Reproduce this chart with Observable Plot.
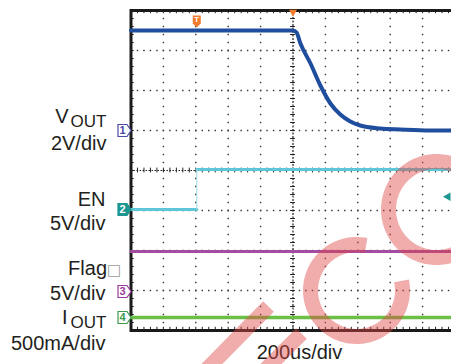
<!DOCTYPE html>
<html><head><meta charset="utf-8">
<script src="https://cdn.jsdelivr.net/npm/d3@7"></script>
<script src="https://cdn.jsdelivr.net/npm/@observablehq/plot@0.6"></script>
<style>
html,body{margin:0;padding:0;background:#fff;overflow:hidden;}
#wrap{position:relative;width:451px;height:364px;overflow:hidden;}
#wrap svg{position:absolute;left:0;top:0;}
</style></head><body><div id="wrap"></div>
<script>
// ---- Scope settings: 200 us/div, trigger (expansion point) at t = 0, 8 vertical divisions
const timeTicks = [-1000,-800,-600,-400,-200,0,200,400,600,800,1000];
const divTicks = [-4,-3,-2,-1,0,1,2,3,4];

// channels
const channelNames  = ["VOUT","EN","Flag","IOUT"];
const channelNums   = ["1","2","3","4"];
const channelScale  = [2,5,5,0.5];          // units per division
const channelOffset = [1,-0.975,-3.025,-3.675]; // ground reference, divisions
const channelColor  = ["#1f4e9e","#5ec6d6","#a24ca2","#6cbf45"];
const markerColor   = ["#4a4aa6","#1b9690","#9b3a9b","#3c9a4c"];

// VOUT (V) vs time (us)
const voutT = [-1000,0,22,46,108,169,231,292,354,415,538,662,846,1000];
const voutV = [5,5,4.9,4.35,3.35,2.25,1.35,0.8,0.45,0.25,0.1,0.05,0,0];
// EN (V)
const enT = [-1000,-594,-594,1000];
const enV = [0,0,5,5];
const enTrigLevel = 1.6;
// Flag (V)
const flagT = [-1000,1000];
const flagV = [5,5];
// IOUT (A)
const ioutT = [-1000,1000];
const ioutA = [0,0];
// trigger position marker
const trigPosT = [-594];

// labels
const labelMain = ["V","2V/div","EN","5V/div","Flag","5V/div","I","500mA/div"];
const labelSub = ["OUT","OUT"];
const timeLabel = ["200us/div"];
const flagBox = ["\u25A1"];

// watermark shapes (pixel space)
const wmArcCx = [356,436];
const wmArcCy = [290,209];
const wmArcR  = [46,48];
const wmArcA0 = [78,30];
const wmArcA1 = [372,330];
const wmBarX1 = [203,260];
const wmBarY1 = [372,374];
const wmBarX2 = [268,301];
const wmBarY2 = [306,333];

// ---- helpers
const py = p => (170 - p) / 40; // pixel row -> division (for label placement)
const toDiv = (k, v) => channelOffset[k] + v / channelScale[k];
const tMinor = d3.range(0, 51).map(i => -1000 + i * 40);
const yMinor = d3.range(0, 41).map(i => +(-4 + i * 0.2).toFixed(2));

const gridDots = [];
for (const y of divTicks) if (Math.abs(y) !== 4 && y !== 0)
  for (const t of tMinor) if (Math.abs(t) !== 1000) gridDots.push({t, y});
for (const t of timeTicks) if (Math.abs(t) !== 1000 && t !== 0)
  for (const y of yMinor) if (Math.abs(y) !== 4) gridDots.push({t, y});

const vout = voutT.map((t,i) => ({t, y: toDiv(0, voutV[i])}));
const enLow = [{t: enT[0], y: toDiv(1, enV[0])}, {t: enT[1], y: toDiv(1, enV[1])}];
const enHigh = [{t: enT[2], y: toDiv(1, enV[2])}, {t: enT[3], y: toDiv(1, enV[3])}];
const flag = flagT.map((t,i) => ({t, y: toDiv(2, flagV[i])}));
const iout = ioutT.map((t,i) => ({t, y: toDiv(3, ioutA[i])}));

const markers = channelNums.map((n,i) => ({n, y: channelOffset[i], color: markerColor[i], filled: i === 1}));

const flagSym = {draw(ctx) {
  ctx.moveTo(-13,-6); ctx.lineTo(-4,-6); ctx.lineTo(0,0); ctx.lineTo(-4,6); ctx.lineTo(-13,6); ctx.closePath();
}};
const trigSym = {draw(ctx) {
  ctx.moveTo(-4,-6); ctx.lineTo(4,-6); ctx.lineTo(4,2); ctx.lineTo(0,6); ctx.lineTo(-4,2); ctx.closePath();
}};

const font = "Liberation Sans, Arial, Helvetica, sans-serif";
const ink = "#231f20";

const main = Plot.plot({
  width: 451, height: 364,
  marginLeft: 130.5, marginRight: -3.5, marginTop: 10, marginBottom: 34,
  x: {domain: [-1000, 1000], axis: null},
  y: {domain: [-4, 4], axis: null},
  style: {fontFamily: font, background: "white"},
  marks: [
    // graticule
    Plot.dot(gridDots, {x: "t", y: "y", r: 0.8, fill: "#333", symbol: "square"}),
    Plot.ruleX([0], {stroke: "#222", strokeWidth: 1.2, strokeDasharray: "2,1.5"}),
    Plot.ruleY([0], {stroke: "#222", strokeWidth: 1.2, strokeDasharray: "1.5,1.5"}),
    Plot.ruleY(yMinor.filter(v => Math.abs(v) < 4), {y: d => d, x1: () => -15, x2: () => 15, stroke: "#222", strokeWidth: 1}),
    Plot.ruleX(tMinor.filter(v => Math.abs(v) < 1000), {x: d => d, y1: () => -0.06, y2: () => 0.06, stroke: "#222", strokeWidth: 1}),
    Plot.ruleX(tMinor, {x: d => d, y1: () => 4, y2: () => 3.92, stroke: "#222"}),
    Plot.ruleX(tMinor, {x: d => d, y1: () => -4, y2: () => -3.92, stroke: "#222"}),
    Plot.ruleY(yMinor, {y: d => d, x1: () => -1000, x2: () => -980, stroke: "#222"}),
    Plot.frame({stroke: "#1a1a1a", strokeWidth: 3}),
    // traces
    Plot.line(iout, {x: "t", y: "y", stroke: channelColor[3], strokeWidth: 3.5}),
    Plot.line(flag, {x: "t", y: "y", stroke: channelColor[2], strokeWidth: 3}),
    Plot.line(enLow, {x: "t", y: "y", stroke: channelColor[1], strokeWidth: 3}),
    Plot.line(enHigh, {x: "t", y: "y", stroke: channelColor[1], strokeWidth: 3}),
    Plot.ruleX(trigPosT, {x: d => d, y1: () => enLow[1].y, y2: () => enHigh[0].y, stroke: "#9fdde6", strokeWidth: 1}),
    Plot.line(vout, {x: "t", y: "y", stroke: channelColor[0], strokeWidth: 4, curve: "monotone-x"}),
    // channel markers
    Plot.dot(markers, {x: () => -1000, y: "y", symbol: flagSym, r: 5, stroke: "color", fill: d => d.filled ? d.color : "white", strokeWidth: 1.2}),
    Plot.text(markers, {x: () => -1000, y: "y", text: "n", dx: -8.5, fill: d => d.filled ? "white" : d.color, fontSize: 11, fontWeight: "bold", lineAnchor: "middle"}),
    // trigger position (T) and expansion point
    Plot.dot(trigPosT, {x: d => d, y: () => 4, dy: 11, symbol: trigSym, r: 5, fill: "#f07c30"}),
    Plot.text(trigPosT, {x: d => d, y: () => 4, dy: 9, text: () => "T", fill: "white", fontSize: 8, fontWeight: "bold", lineAnchor: "middle"}),
    Plot.dot([0], {x: d => d, y: () => 4, dy: 1.5, symbol: "triangle", rotate: 180, r: 3, fill: "#f07c30"}),
    // trigger level marker for EN
    Plot.dot([enTrigLevel], {x: () => 1000, y: d => toDiv(1, d), dx: -7, symbol: "triangle", rotate: -90, r: 3.2, fill: "#1b9690"}),
    // channel labels
    Plot.text([labelMain[0]], {x: () => -1000, y: () => py(122.5), dx: -62.5, text: d => d, textAnchor: "end", lineAnchor: "bottom", fontSize: 20, fill: ink}),
    Plot.text([labelSub[0]], {x: () => -1000, y: () => py(126.5), dx: -24.5, text: d => d, textAnchor: "end", lineAnchor: "bottom", fontSize: 17, fill: ink}),
    Plot.text([labelMain[1]], {x: () => -1000, y: () => py(149), dx: -24.5, text: d => d, textAnchor: "end", lineAnchor: "bottom", fontSize: 20, fill: ink}),
    Plot.text([labelMain[2]], {x: () => -1000, y: () => py(205), dx: -25.5, text: d => d, textAnchor: "end", lineAnchor: "bottom", fontSize: 20, fill: ink}),
    Plot.text([labelMain[3]], {x: () => -1000, y: () => py(229), dx: -25.5, text: d => d, textAnchor: "end", lineAnchor: "bottom", fontSize: 20, fill: ink}),
    Plot.text([labelMain[4]], {x: () => -1000, y: () => py(274.5), dx: -24, text: d => d, textAnchor: "end", lineAnchor: "bottom", fontSize: 20, fill: ink}),
    Plot.text(flagBox, {x: () => -1000, y: () => py(274.5), dx: -17, text: d => d, textAnchor: "middle", lineAnchor: "bottom", fontSize: 15, fill: "#9a9a9a", fontFamily: "DejaVu Sans"}),
    Plot.text([labelMain[5]], {x: () => -1000, y: () => py(299), dx: -25.5, text: d => d, textAnchor: "end", lineAnchor: "bottom", fontSize: 20, fill: ink}),
    Plot.text([labelMain[6]], {x: () => -1000, y: () => py(323.5), dx: -63.5, text: d => d, textAnchor: "end", lineAnchor: "bottom", fontSize: 20, fill: ink}),
    Plot.text([labelSub[1]], {x: () => -1000, y: () => py(327), dx: -24.5, text: d => d, textAnchor: "end", lineAnchor: "bottom", fontSize: 17, fill: ink}),
    Plot.text([labelMain[7]], {x: () => -1000, y: () => py(349.5), dx: -25.5, text: d => d, textAnchor: "end", lineAnchor: "bottom", fontSize: 20, fill: ink}),
    // time base
    Plot.text(timeLabel, {x: () => 40, y: () => py(358), text: d => d, textAnchor: "middle", lineAnchor: "bottom", fontSize: 20, fill: ink})
  ]
});

// watermark overlay (pixel-space plot)
const wmPts = [];
wmArcCx.forEach((cx, i) => {
  const n = 80;
  for (let k = 0; k <= n; k++) {
    const a = (wmArcA0[i] + (wmArcA1[i] - wmArcA0[i]) * k / n) * Math.PI / 180;
    wmPts.push({id: "a" + i, x: cx + wmArcR[i] * Math.cos(a), y: wmArcCy[i] - wmArcR[i] * Math.sin(a)});
  }
});
wmBarX1.forEach((x1, i) => {
  wmPts.push({id: "b" + i, x: x1, y: wmBarY1[i]});
  wmPts.push({id: "b" + i, x: wmBarX2[i], y: wmBarY2[i]});
});
const overlay = Plot.plot({
  width: 451, height: 364, margin: 0,
  x: {domain: [0, 451], range: [0, 451], axis: null},
  y: {domain: [0, 364], range: [0, 364], axis: null},
  style: {background: "transparent"},
  marks: [
    Plot.line(wmPts, {x: "x", y: "y", z: "id", stroke: "#e04848", strokeOpacity: 0.45, strokeWidth: 15, strokeLinecap: "butt", curve: "linear"})
  ]
});

const wrap = document.getElementById("wrap");
wrap.appendChild(main);
wrap.appendChild(overlay);
overlay.style.pointerEvents = "none";
</script>
</body></html>
